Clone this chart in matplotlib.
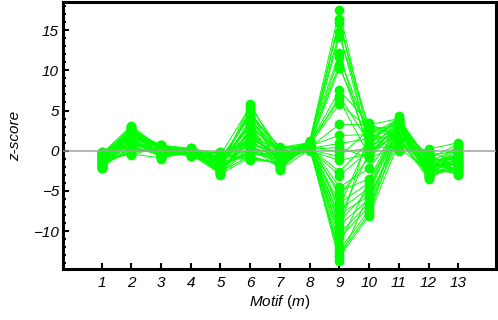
import numpy as np
import matplotlib
matplotlib.use("Agg")
import matplotlib.pyplot as plt
import matplotlib.ticker as ticker

plt.rcParams['font.family'] = ['Liberation Sans', 'DejaVu Sans']
plt.rcParams['mathtext.fontset'] = 'custom'
plt.rcParams['mathtext.it'] = 'Liberation Sans:italic'
plt.rcParams['mathtext.rm'] = 'Liberation Sans'

motifs = np.arange(1, 14)

# z-scores per motif, one value per network (same order in every list)
z1 = [-0.4, -1.2, -2.0, -0.8, -1.6, -0.2, -1.0, -2.2, -0.6, -1.4, -0.1, -1.8, -0.9, -1.3, -0.5, -2.1, -0.7, -1.1, -1.5, -0.3,
      -1.9, -0.8, -1.2, -0.4, -1.7, -1.0, -0.6, -2.0, -0.2, -1.4, -0.9, -1.6, -0.5, -1.1, -1.8, -0.3, -1.3, -0.7, -2.2, -1.0]
z2 = [3.1, 1.2, 2.4, 0.3, 2.8, 1.6, -0.5, 2.0, 0.8, 2.6, 1.4, 0.0, 2.2, 1.0, 2.9, 0.5, 1.8, 2.5, -0.2, 1.3,
      2.1, 0.7, 3.0, 1.5, 0.2, 2.3, 1.1, 2.7, 0.4, 1.9, -0.4, 1.7, 2.4, 0.9, 1.4, 2.0, 0.6, 2.8, 1.2, 0.1]
z3 = [0.3, -0.5, 0.7, -0.2, 0.0, -0.9, 0.5, -0.3, 0.2, -1.0, 0.6, -0.1, 0.4, -0.6, 0.1, -0.4, 0.75, -0.8, 0.2, -0.2,
      0.5, 0.0, -0.7, 0.3, -0.3, 0.6, -0.1, 0.4, -0.5, 0.1, -0.9, 0.2, 0.7, -0.4, 0.0, 0.3, -0.6, 0.5, -0.2, 0.1]
z4 = [0.1, -0.3, 0.3, -0.5, 0.0, -0.2, 0.2, -0.6, -0.1, 0.2, -0.4, 0.1, -0.3, 0.0, -0.65, 0.3, -0.2, -0.1, 0.1, -0.4,
      0.2, -0.3, 0.0, -0.5, 0.1, -0.2, 0.3, -0.1, -0.4, 0.0, 0.2, -0.6, -0.2, 0.1, -0.3, 0.0, -0.1, 0.2, -0.5, -0.2]
z5 = [-2.2, -1.4, -3.0, -0.6, -1.8, -2.6, -0.9, -2.0, -1.2, -2.8, -0.3, -1.6, -2.4, -1.0, -0.1, -1.9, -2.7, -1.3, -0.5, -2.1,
      -1.5, -2.9, -0.8, -1.7, -2.3, -1.1, -0.4, -2.5, -1.8, -0.7, -1.4, -2.0, -2.6, -1.0, -0.2, -1.6, -2.2, -1.2, -2.8, -0.9]
z6 = [5.8, 4.6, 2.1, 0.5, 3.8, -0.6, 1.4, 5.2, 0.2, 2.8, -1.0, 3.3, 1.0, 4.2, 0.8, -0.3, 2.4, 1.7, 5.5, 0.0,
      3.0, -0.8, 1.2, 4.9, 0.4, 2.2, -1.2, 1.6, 3.6, 0.6, -0.5, 2.6, 1.9, 4.4, 0.9, -0.2, 1.1, 3.2, 0.3, 2.0]
z7 = [-0.5, 0.4, -1.2, -0.8, 0.0, -1.8, -0.3, -2.3, -0.9, 0.2, -1.5, -0.6, -1.0, 0.5, -2.0, -0.4, -1.3, -0.7, 0.1, -1.1,
      -0.2, -1.6, -0.9, -0.5, -2.2, 0.3, -1.4, -0.8, -0.1, -1.7, -0.6, -1.0, 0.0, -1.9, -0.3, -1.2, -0.7, -2.4, -0.4, -1.1]
z8 = [1.2, 1.0, 0.9, 1.1, 0.8, 1.25, 0.7, 1.0, 0.6, 0.9, 0.5, 1.1, 0.8, 0.4, 0.6, 0.3, 0.2, 0.5, 0.1, 0.0,
      0.4, 0.3, 0.7, 0.2, 0.9, 0.5, 0.6, 1.0, 0.3, 0.8, 0.4, 0.7, 0.1, 0.9, 0.5, 1.1, 0.6, 0.2, 0.8, 0.4]
z9 = [17.5, 16.4, 15.9, 14.7, 14.2, 12.2, 11.7, 10.7, 10.3, 7.5, 6.8, 6.3, 5.8, 3.3, 1.9, 0.9, 0.4, -0.2, -0.7, -1.2,
      -2.6, -3.1, -4.5, -5.0, -5.6, -6.5, -7.0, -7.4, -7.9, -8.3, -8.8, -9.3, -9.8, -10.3, -10.8, -11.7, -12.3, -12.8, -13.2, -13.7]
z10 = [1.2, 0.2, 2.5, 0.8, 3.0, -0.3, 1.8, 0.5, 2.2, 3.4, 1.0, -0.6, 2.8, 3.2, 2.0, 1.5, -0.9, 0.3, 2.6, -0.4,
       1.1, 0.0, -2.2, -3.5, -0.8, -4.0, 1.4, -4.6, -5.6, -0.2, -4.9, -6.0, 2.4, -6.5, -7.0, -3.8, -7.4, -7.8, -8.1, -5.3]
z11 = [2.1, 3.5, 1.8, 4.3, 2.6, 3.0, 0.0, 2.4, 3.8, 1.5, 2.9, 3.3, 2.0, 4.0, 1.2, 3.6, 2.7, 0.6, 3.1, 2.3,
       3.9, 1.9, 2.8, 3.4, 0.3, 2.5, 3.7, 2.2, 1.6, 3.2, 4.1, 2.0, 2.6, 3.0, 1.4, 2.9, 3.5, 2.4, 1.0, 3.3]
z12 = [-1.8, -2.5, -0.6, -3.2, -1.2, -2.0, 0.2, -2.8, -1.5, -3.5, -2.2, -0.9, -1.7, -2.6, -3.0, -1.1, -2.3, -0.3, -1.9, -2.9,
       -1.4, -2.1, -3.3, -0.8, -2.4, -1.6, -2.7, -1.0, -3.1, -2.0, -1.3, -2.5, -0.5, -1.8, -2.2, -3.4, -1.5, -2.6, -0.1, -1.9]
z13 = [-1.2, -0.5, -2.0, 0.4, -2.6, -1.6, 1.0, -0.9, -2.3, -1.4, 0.2, -3.0, -1.8, -0.3, -2.1, -1.0, 0.7, -2.8, -1.5, -0.7,
       -2.4, -1.1, 0.0, -1.9, -2.7, -0.4, -1.3, 0.8, -2.2, -1.7, -0.8, -2.5, -0.1, -1.6, -2.9, -1.0, 0.5, -2.0, -1.4, -0.6]

Z = np.array([z1, z2, z3, z4, z5, z6, z7, z8, z9, z10, z11, z12, z13])  # (motif, red)

fig = plt.figure(figsize=(4.98, 3.2), dpi=100)
ax = fig.add_axes([0.127, 0.158, 0.869, 0.836])

for k in range(Z.shape[1]):
    ax.plot(motifs, Z[:, k], '-', color='#00ff00', lw=0.7)
    ax.plot(motifs, Z[:, k], 'o', color='#00ff00', ms=7, mew=0)

ax.axhline(0, color='#a0a0a0', lw=1.5, alpha=0.75, zorder=5)

ax.set_xlim(-0.29, 14.27)
ax.set_ylim(-14.76, 18.5)
ax.set_xticks(motifs)
ax.yaxis.set_major_locator(ticker.MultipleLocator(5))
ax.yaxis.set_minor_locator(ticker.MultipleLocator(1))
ax.tick_params(axis='both', which='both', direction='in', top=False, right=False,
               labelsize=11, width=1.5)
ax.tick_params(axis='x', which='major', length=4, pad=5)
ax.tick_params(axis='y', which='major', length=4, pad=3)
ax.tick_params(axis='y', which='minor', length=2.5)
for lab in ax.get_xticklabels() + ax.get_yticklabels():
    lab.set_fontstyle('italic')
for sp in ax.spines.values():
    sp.set_linewidth(2.2)

ax.set_xlabel(r'$Motif\ \mathrm{(}m\mathrm{)}$', fontsize=11, labelpad=2)
ax.set_ylabel('z-score', fontsize=11, style='italic', labelpad=8)

fig.savefig('out.png', dpi=100)
